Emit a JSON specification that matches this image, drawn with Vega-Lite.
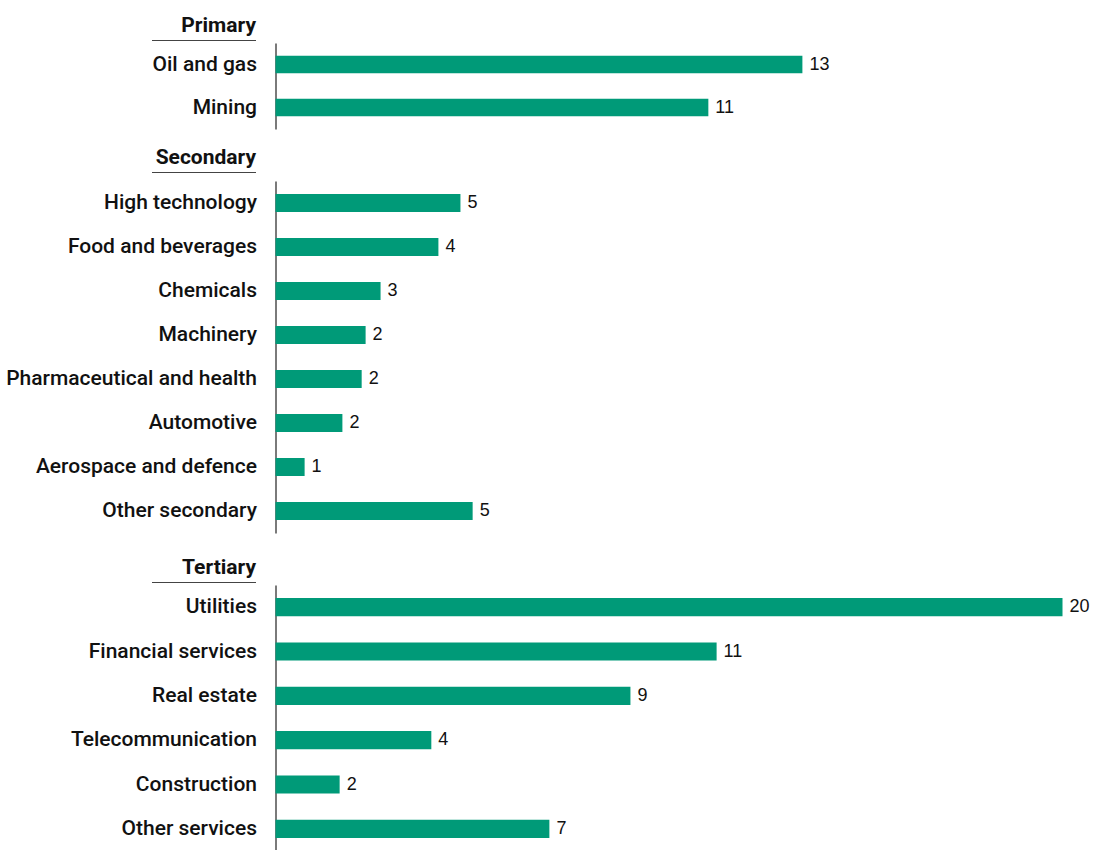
{
  "$schema": "https://vega.github.io/schema/vega-lite/v6.json",
  "autosize": {"type": "pad"},
  "padding": {"left": 5.5, "top": 14, "right": 0, "bottom": 0},
  "background": "white",
  "config": {"view": {"stroke": null}, "font": "Roboto"},
  "datasets": {
    "sectors": [
      {"group": "Primary", "sector": "Oil and gas", "value": 13.39, "label": "13"},
      {"group": "Primary", "sector": "Mining", "value": 11.0, "label": "11"},
      {"group": "Secondary", "sector": "High technology", "value": 4.70, "label": "5"},
      {"group": "Secondary", "sector": "Food and beverages", "value": 4.14, "label": "4"},
      {"group": "Secondary", "sector": "Chemicals", "value": 2.67, "label": "3"},
      {"group": "Secondary", "sector": "Machinery", "value": 2.29, "label": "2"},
      {"group": "Secondary", "sector": "Pharmaceutical and health", "value": 2.19, "label": "2"},
      {"group": "Secondary", "sector": "Automotive", "value": 1.70, "label": "2"},
      {"group": "Secondary", "sector": "Aerospace and defence", "value": 0.74, "label": "1"},
      {"group": "Secondary", "sector": "Other secondary", "value": 5.01, "label": "5"},
      {"group": "Tertiary", "sector": "Utilities", "value": 20.0, "label": "20"},
      {"group": "Tertiary", "sector": "Financial services", "value": 11.21, "label": "11"},
      {"group": "Tertiary", "sector": "Real estate", "value": 9.02, "label": "9"},
      {"group": "Tertiary", "sector": "Telecommunication", "value": 3.96, "label": "4"},
      {"group": "Tertiary", "sector": "Construction", "value": 1.63, "label": "2"},
      {"group": "Tertiary", "sector": "Other services", "value": 6.96, "label": "7"}
    ]
  },
  "spacing": 52,
  "bounds": "flush",
  "vconcat": [
    {
      "width": 787, "height": 86,
      "data": {"name": "sectors"},
      "transform": [{"filter": "datum.group === 'Primary'"}],
      "layer": [
        {
          "mark": {"type": "rule", "opacity": 0},
          "encoding": {
            "x": {"datum": 0, "type": "quantitative", "scale": {"domain": [0, 1], "range": [-124, -20]},
              "axis": {"orient": "top", "title": "Primary", "labels": false, "ticks": false, "grid": false, "domain": true, "domainColor": "#444", "domainWidth": 1, "offset": 3,
                "titleFont": "Roboto", "titleFontWeight": "bold", "titleFontSize": 21, "titleColor": "#111", "titleAlign": "right", "titleBaseline": "alphabetic", "titleAngle": 0, "titleX": -20, "titleY": -9}}
          }
        },
        {
          "mark": {"type": "bar", "color": "#009A78"},
          "encoding": {
            "y": {"field": "sector", "type": "nominal", "sort": null, "scale": {"paddingInner": 0.59, "paddingOuter": 0.295},
              "axis": {"title": null, "domain": true, "domainColor": "#7a7a7a", "domainWidth": 2, "ticks": false, "labelPadding": 19, "labelFont": "Roboto", "labelFontSize": 21, "labelFontWeight": 500, "labelColor": "#111", "labelLimit": 400}},
            "x": {"field": "value", "type": "quantitative", "scale": {"domain": [0, 20]}, "axis": null}
          }
        },
        {
          "mark": {"type": "text", "align": "left", "baseline": "middle", "dx": 7, "font": "Liberation Sans", "fontSize": 18, "color": "#111"},
          "encoding": {
            "y": {"field": "sector", "type": "nominal", "sort": null, "scale": {"paddingInner": 0.59, "paddingOuter": 0.295},
              "axis": {"title": null, "domain": true, "domainColor": "#7a7a7a", "domainWidth": 2, "ticks": false, "labelPadding": 19, "labelFont": "Roboto", "labelFontSize": 21, "labelFontWeight": 500, "labelColor": "#111", "labelLimit": 400}},
            "x": {"field": "value", "type": "quantitative", "scale": {"domain": [0, 20]}, "axis": null},
            "text": {"field": "label"}
          }
        }
      ],
      "resolve": {"scale": {"x": "independent"}, "axis": {"x": "independent"}}
    },
    {
      "width": 787, "height": 352,
      "data": {"name": "sectors"},
      "transform": [{"filter": "datum.group === 'Secondary'"}],
      "layer": [
        {
          "mark": {"type": "rule", "opacity": 0},
          "encoding": {
            "x": {"datum": 0, "type": "quantitative", "scale": {"domain": [0, 1], "range": [-124, -20]},
              "axis": {"orient": "top", "title": "Secondary", "labels": false, "ticks": false, "grid": false, "domain": true, "domainColor": "#444", "domainWidth": 1, "offset": 9,
                "titleFont": "Roboto", "titleFontWeight": "bold", "titleFontSize": 21, "titleColor": "#111", "titleAlign": "right", "titleBaseline": "alphabetic", "titleAngle": 0, "titleX": -20, "titleY": -9}}
          }
        },
        {
          "mark": {"type": "bar", "color": "#009A78"},
          "encoding": {
            "y": {"field": "sector", "type": "nominal", "sort": null, "scale": {"paddingInner": 0.59, "paddingOuter": 0.295},
              "axis": {"title": null, "domain": true, "domainColor": "#7a7a7a", "domainWidth": 2, "ticks": false, "labelPadding": 19, "labelFont": "Roboto", "labelFontSize": 21, "labelFontWeight": 500, "labelColor": "#111", "labelLimit": 400}},
            "x": {"field": "value", "type": "quantitative", "scale": {"domain": [0, 20]}, "axis": null}
          }
        },
        {
          "mark": {"type": "text", "align": "left", "baseline": "middle", "dx": 7, "font": "Liberation Sans", "fontSize": 18, "color": "#111"},
          "encoding": {
            "y": {"field": "sector", "type": "nominal", "sort": null, "scale": {"paddingInner": 0.59, "paddingOuter": 0.295},
              "axis": {"title": null, "domain": true, "domainColor": "#7a7a7a", "domainWidth": 2, "ticks": false, "labelPadding": 19, "labelFont": "Roboto", "labelFontSize": 21, "labelFontWeight": 500, "labelColor": "#111", "labelLimit": 400}},
            "x": {"field": "value", "type": "quantitative", "scale": {"domain": [0, 20]}, "axis": null},
            "text": {"field": "label"}
          }
        }
      ],
      "resolve": {"scale": {"x": "independent"}, "axis": {"x": "independent"}}
    },
    {
      "width": 787, "height": 266,
      "data": {"name": "sectors"},
      "transform": [{"filter": "datum.group === 'Tertiary'"}],
      "layer": [
        {
          "mark": {"type": "rule", "opacity": 0},
          "encoding": {
            "x": {"datum": 0, "type": "quantitative", "scale": {"domain": [0, 1], "range": [-124, -20]},
              "axis": {"orient": "top", "title": "Tertiary", "labels": false, "ticks": false, "grid": false, "domain": true, "domainColor": "#444", "domainWidth": 1, "offset": 3,
                "titleFont": "Roboto", "titleFontWeight": "bold", "titleFontSize": 21, "titleColor": "#111", "titleAlign": "right", "titleBaseline": "alphabetic", "titleAngle": 0, "titleX": -20, "titleY": -9}}
          }
        },
        {
          "mark": {"type": "bar", "color": "#009A78"},
          "encoding": {
            "y": {"field": "sector", "type": "nominal", "sort": null, "scale": {"paddingInner": 0.59, "paddingOuter": 0.295},
              "axis": {"title": null, "domain": true, "domainColor": "#7a7a7a", "domainWidth": 2, "ticks": false, "labelPadding": 19, "labelFont": "Roboto", "labelFontSize": 21, "labelFontWeight": 500, "labelColor": "#111", "labelLimit": 400}},
            "x": {"field": "value", "type": "quantitative", "scale": {"domain": [0, 20]}, "axis": null}
          }
        },
        {
          "mark": {"type": "text", "align": "left", "baseline": "middle", "dx": 7, "font": "Liberation Sans", "fontSize": 18, "color": "#111"},
          "encoding": {
            "y": {"field": "sector", "type": "nominal", "sort": null, "scale": {"paddingInner": 0.59, "paddingOuter": 0.295},
              "axis": {"title": null, "domain": true, "domainColor": "#7a7a7a", "domainWidth": 2, "ticks": false, "labelPadding": 19, "labelFont": "Roboto", "labelFontSize": 21, "labelFontWeight": 500, "labelColor": "#111", "labelLimit": 400}},
            "x": {"field": "value", "type": "quantitative", "scale": {"domain": [0, 20]}, "axis": null},
            "text": {"field": "label"}
          }
        }
      ],
      "resolve": {"scale": {"x": "independent"}, "axis": {"x": "independent"}}
    }
  ]
}
